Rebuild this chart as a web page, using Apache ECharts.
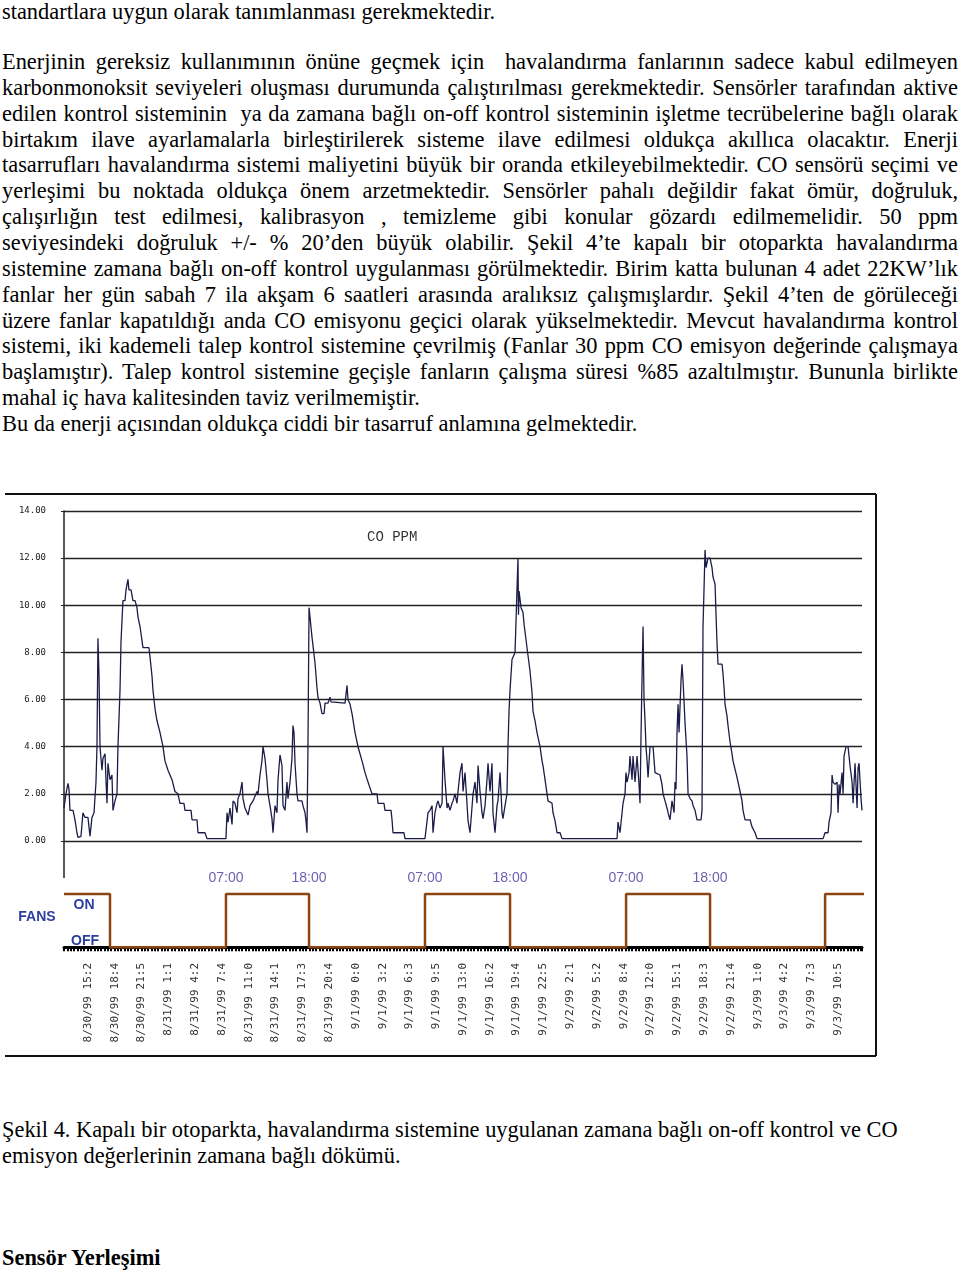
<!DOCTYPE html>
<html><head><meta charset="utf-8">
<script src="https://cdn.jsdelivr.net/npm/echarts@6/dist/echarts.min.js"></script>
<style>
html,body{margin:0;padding:0;background:#fff;width:960px;height:1273px;overflow:hidden;}
.txt{position:absolute;left:2px;width:956px;font-family:"Liberation Serif","Times New Roman",serif;font-size:22.4px;line-height:25.86px;color:#000;}
.j{text-align:justify;text-align-last:justify;}
#chart{position:absolute;left:0;top:480px;width:960px;height:600px;}
</style></head>
<body>
<div class="txt" style="top:-1px">standartlara uygun olarak tanımlanması gerekmektedir.</div>
<div class="txt" style="top:49px">
<div class="j">Enerjinin gereksiz kullanımının önüne geçmek için&nbsp; havalandırma fanlarının sadece kabul edilmeyen</div>
<div class="j">karbonmonoksit seviyeleri oluşması durumunda çalıştırılması gerekmektedir. Sensörler tarafından aktive</div>
<div class="j">edilen kontrol sisteminin&nbsp; ya da zamana bağlı on-off kontrol sisteminin işletme tecrübelerine bağlı olarak</div>
<div class="j">birtakım ilave ayarlamalarla birleştirilerek sisteme ilave edilmesi oldukça akıllıca olacaktır. Enerji</div>
<div class="j">tasarrufları havalandırma sistemi maliyetini büyük bir oranda etkileyebilmektedir. CO sensörü seçimi ve</div>
<div class="j">yerleşimi bu noktada oldukça önem arzetmektedir. Sensörler pahalı değildir fakat ömür, doğruluk,</div>
<div class="j">çalışırlığın test edilmesi, kalibrasyon , temizleme gibi konular gözardı edilmemelidir. 50 ppm</div>
<div class="j">seviyesindeki doğruluk +/- % 20’den büyük olabilir. Şekil 4’te kapalı bir otoparkta havalandırma</div>
<div class="j">sistemine zamana bağlı on-off kontrol uygulanması görülmektedir. Birim katta bulunan 4 adet 22KW’lık</div>
<div class="j">fanlar her gün sabah 7 ila akşam 6 saatleri arasında aralıksız çalışmışlardır. Şekil 4’ten de görüleceği</div>
<div class="j">üzere fanlar kapatıldığı anda CO emisyonu geçici olarak yükselmektedir. Mevcut havalandırma kontrol</div>
<div class="j">sistemi, iki kademeli talep kontrol sistemine çevrilmiş (Fanlar 30 ppm CO emisyon değerinde çalışmaya</div>
<div class="j">başlamıştır). Talep kontrol sistemine geçişle fanların çalışma süresi %85 azaltılmıştır. Bununla birlikte</div>
<div>mahal iç hava kalitesinden taviz verilmemiştir.</div>
<div>Bu da enerji açısından oldukça ciddi bir tasarruf anlamına gelmektedir.</div>
</div>
<div id="chart"></div>
<div class="txt" style="top:1117px">
<div>Şekil 4. Kapalı bir otoparkta, havalandırma sistemine uygulanan zamana bağlı on-off kontrol ve CO</div>
<div>emisyon değerlerinin zamana bağlı dökümü.</div>
</div>
<div class="txt" style="top:1245px;font-weight:bold">Sensör Yerleşimi</div>
<script>
// x values: hours since 8/30/99 00:00
const xStart = 12.49, xEnd = 109.80;
const yTicksMax = 14, yTickStep = 2;
// CO readings [hours, ppm]
const coReadings = [
[12.49,1.4],[12.73,2.0],[12.98,2.45],[13.10,2.2],[13.22,1.3],[13.59,1.3],[13.83,0.9],[14.07,0.35],[14.20,0.15],[14.56,0.2],[14.80,1.2],[15.05,1.0],[15.41,1.0],[15.66,0.2],[15.90,1.0],[16.15,1.2],[16.39,2.5],[16.51,4.0],[16.63,8.6],[16.76,7.0],[16.88,4.0],[17.12,3.0],[17.24,3.5],[17.49,3.7],[17.61,2.6],[17.73,1.6],[17.85,3.3],[18.10,2.6],[18.34,2.8],[18.46,1.3],[18.71,1.7],[18.95,2.0],[19.07,4.0],[19.32,6.4],[19.44,8.45],[19.68,10.2],[19.93,10.2],[20.05,10.65],[20.29,11.1],[20.41,10.65],[20.66,10.65],[20.90,10.2],[21.15,10.2],[21.39,9.9],[21.51,9.5],[21.76,9.1],[22.00,8.5],[22.12,8.2],[22.85,8.2],[22.98,7.8],[23.22,7.0],[23.34,6.4],[23.59,5.6],[23.83,5.1],[24.20,4.6],[24.56,4.0],[24.80,3.4],[25.17,3.0],[25.66,2.6],[26.02,2.1],[26.39,2.0],[26.63,1.6],[27.12,1.6],[27.24,1.3],[27.98,1.3],[28.10,0.9],[28.71,0.9],[28.83,0.35],[29.68,0.35],[29.93,0.1],[32.24,0.1],
[32.37,1.2],[32.49,0.8],[32.73,1.4],[32.98,0.7],[33.10,1.7],[33.34,1.6],[33.59,1.2],[33.71,1.8],[33.95,2.0],[34.20,2.5],[34.32,1.8],[34.56,1.4],[34.93,1.1],[35.17,1.5],[35.54,1.7],[35.78,1.7],[36.02,2.1],[36.15,2.0],[36.39,2.8],[36.63,3.4],[36.76,4.0],[37.00,3.5],[37.24,2.6],[37.37,2.0],[37.61,1.5],[37.85,0.95],[37.98,0.35],[38.22,1.5],[38.46,1.2],[38.59,2.6],[38.83,3.65],[39.07,3.2],[39.20,1.5],[39.44,1.3],[39.68,2.5],[39.80,1.8],[40.05,2.5],[40.29,3.5],[40.41,4.9],[40.54,4.6],[40.66,3.3],[40.90,2.0],[41.02,1.7],[41.51,1.7],[41.63,1.5],[41.88,1.2],[42.00,0.85],[42.12,0.35],[42.24,4.0],[42.37,9.9],[42.49,9.5],[42.73,8.65],[42.85,8.3],[43.10,7.55],[43.34,6.5],[43.46,6.1],[43.71,5.85],[43.95,5.4],[44.20,5.4],[44.32,5.85],[44.68,5.85],[44.93,6.1],[45.05,5.9],[45.29,5.85],[46.76,5.85],[47.00,6.6],[47.12,6.0],[47.37,5.8],[47.61,5.4],[47.98,4.6],[48.34,4.0],[48.83,3.4],[49.20,2.9],[49.56,2.5],[50.05,2.0],[50.66,2.0],[50.78,1.6],[51.51,1.6],[51.63,1.3],[52.37,1.3],[52.49,0.9],[52.61,0.35],[53.95,0.35],[54.07,0.1],[56.51,0.1],
[56.76,0.85],[56.88,1.2],[57.12,1.3],[57.37,1.5],[57.49,0.35],[57.73,1.2],[57.98,1.6],[58.10,1.7],[58.34,1.4],[58.59,1.6],[58.71,4.0],[58.95,2.6],[59.20,1.4],[59.32,1.6],[59.56,1.3],[59.80,1.6],[59.93,1.7],[60.17,2.0],[60.41,1.6],[60.54,2.1],[60.78,2.9],[61.02,3.3],[61.15,2.1],[61.39,2.9],[61.63,1.6],[61.76,0.85],[62.00,0.35],[62.24,0.35],[62.37,2.0],[62.61,2.5],[62.85,1.6],[62.98,3.2],[63.22,2.1],[63.46,1.2],[63.59,0.95],[63.83,1.5],[64.07,2.6],[64.20,3.3],[64.44,2.1],[64.68,3.3],[64.80,1.2],[65.05,0.35],[65.29,1.5],[65.41,1.7],[65.66,2.9],[65.90,1.2],[66.02,0.95],[66.27,1.5],[66.51,2.0],[66.63,4.0],[66.76,5.55],[66.88,6.4],[67.12,7.7],[67.49,8.0],[67.73,8.0],[67.85,12.0],[67.91,9.6],[67.98,10.6],[68.22,9.9],[68.46,9.7],[68.59,9.2],[68.95,8.2],[69.32,7.2],[69.56,6.3],[69.68,5.5],[69.93,5.1],[70.17,4.6],[70.41,4.6],[70.54,4.0],[70.78,3.4],[70.90,3.2],[71.15,2.6],[71.39,2.0],[71.51,1.7],[72.00,1.6],[72.12,1.2],[72.37,0.85],[72.61,0.35],[72.98,0.35],[73.22,0.1],[79.93,0.1],
[80.05,0.8],[80.29,0.35],[80.54,1.2],[80.66,1.6],[80.90,2.0],[81.02,2.9],[81.15,2.5],[81.39,2.9],[81.51,3.6],[81.76,2.6],[81.88,3.6],[82.12,2.5],[82.37,3.6],[82.61,2.4],[82.73,1.6],[82.85,4.4],[82.98,7.0],[83.10,9.1],[83.22,6.0],[83.34,5.1],[83.46,4.0],[83.59,3.4],[83.71,2.7],[83.95,4.0],[84.32,4.0],[84.56,2.9],[85.17,2.8],[85.41,2.4],[85.54,2.0],[85.78,1.7],[86.02,1.4],[86.15,1.2],[86.39,0.9],[86.63,1.7],[86.88,1.2],[87.00,2.5],[87.12,2.2],[87.24,4.6],[87.37,5.8],[87.49,4.6],[87.73,6.8],[87.85,7.5],[87.98,6.8],[88.22,5.0],[88.46,3.6],[88.59,2.0],[88.83,1.8],[89.07,1.7],[89.20,1.5],[89.44,1.3],[89.68,0.9],[90.17,0.9],[90.29,1.3],[90.41,9.0],[90.66,12.35],[90.78,11.6],[90.90,11.6],[91.02,12.0],[91.27,12.0],[91.51,11.6],[91.63,11.2],[91.88,10.9],[92.00,9.6],[92.12,8.4],[92.24,7.5],[92.73,7.5],[92.85,7.1],[92.98,6.5],[93.10,5.8],[93.34,5.3],[93.46,4.9],[93.71,4.2],[93.95,3.7],[94.07,3.4],[94.56,2.7],[94.93,2.1],[95.17,1.7],[95.29,1.3],[95.54,0.9],[96.15,0.9],[96.39,0.6],[96.76,0.35],[97.00,0.1],[105.05,0.1],
[105.29,0.35],[105.66,0.35],[105.78,0.8],[106.02,1.2],[106.15,2.8],[106.27,2.5],[106.51,2.4],[106.76,2.5],[106.88,1.2],[107.00,2.4],[107.12,2.0],[107.37,2.9],[107.49,2.0],[107.61,3.6],[107.85,4.0],[108.10,4.0],[108.22,3.6],[108.34,3.2],[108.59,2.5],[108.71,1.6],[108.95,3.3],[109.20,1.4],[109.32,3.1],[109.44,3.3],[109.68,1.8],[109.80,1.3]
];
// fan state (1 = ON, 0 = OFF) at switching hours
const fanHours = [12.49,18.10,32.24,42.37,56.51,66.88,81.03,91.27,105.30,110.54];
const fanState = [1,0,1,0,1,0,1,0,1,1];
// switching-time annotations
const switchHours = [32.24,42.37,56.51,66.88,81.03,91.27];
const switchText = ['07:00','18:00','07:00','18:00','07:00','18:00'];
// x tick labels
const tickHours = [15.42,18.68,21.95,25.22,28.48,31.75,35.02,38.28,41.55,44.82,48.08,51.35,54.62,57.88,61.15,64.42,67.68,70.95,74.22,77.48,80.75,84.02,87.28,90.55,93.82,97.08,100.35,103.62,106.88];
const tickLabels = ["8/30/99 15:2","8/30/99 18:4","8/30/99 21:5","8/31/99 1:1","8/31/99 4:2","8/31/99 7:4","8/31/99 11:0","8/31/99 14:1","8/31/99 17:3","8/31/99 20:4","9/1/99 0:0","9/1/99 3:2","9/1/99 6:3","9/1/99 9:5","9/1/99 13:0","9/1/99 16:2","9/1/99 19:4","9/1/99 22:5","9/2/99 2:1","9/2/99 5:2","9/2/99 8:4","9/2/99 12:0","9/2/99 15:1","9/2/99 18:3","9/2/99 21:4","9/3/99 1:0","9/3/99 4:2","9/3/99 7:3","9/3/99 10:5"];

const chart = echarts.init(document.getElementById('chart'));
const blue = '#2d3f9e';
chart.setOption({
  animation:false,
  title:{text:'CO PPM', left:362, top:45, textStyle:{fontFamily:'Liberation Mono', fontSize:14, fontWeight:'normal', color:'#333'}},
  grid:[{left:64, top:31, width:798, height:330},{left:64, top:414, width:798, height:64}],
  xAxis:[
    {gridIndex:0, type:'value', min:xStart, max:xEnd, show:false},
    {gridIndex:1, type:'value', min:xStart, max:xEnd, interval:0.41, position:'bottom',
     axisLine:{show:true, lineStyle:{color:'#000', width:3}},
     axisTick:{show:true, length:4, lineStyle:{color:'#000', width:2}},
     axisLabel:{show:true, customValues:tickHours, rotate:90, margin:5, fontFamily:'DejaVu Sans Mono', fontSize:11, color:'#333',
       formatter:function(v){ let k=0,b=1e9; tickHours.forEach((h,i)=>{const d=Math.abs(h-v); if(d<b){b=d;k=i;}}); return tickLabels[k]; }},
     splitLine:{show:false}}
  ],
  yAxis:[
    {gridIndex:0, type:'value', min:0, max:yTicksMax, interval:yTickStep,
     axisLine:{show:true, lineStyle:{color:'#222', width:1.5}},
     axisTick:{show:true, length:3, lineStyle:{color:'#222'}},
     axisLabel:{margin:18, fontFamily:'DejaVu Sans Mono', fontSize:9, color:'#222', formatter:v=>v.toFixed(2)},
     splitLine:{show:true, lineStyle:{color:'#222', width:1.3}}},
    {gridIndex:1, type:'value', min:-0.2, max:1, show:false}
  ],
  series:[
    {type:'line', xAxisIndex:0, yAxisIndex:0, data:coReadings, showSymbol:false, symbol:'none',
     lineStyle:{color:'#1c1c48', width:1.3}},
    {type:'line', xAxisIndex:1, yAxisIndex:1, step:'end', clip:false, showSymbol:false, symbol:'none',
     data:fanHours.map((h,i)=>[h,fanState[i]]), lineStyle:{color:'#8b4513', width:2.5}},
    {type:'scatter', xAxisIndex:1, yAxisIndex:1, symbolSize:1, itemStyle:{color:'rgba(0,0,0,0)'},
     data:switchHours.map(h=>[h,1]),
     label:{show:true, position:'top', distance:8, formatter:p=>switchText[p.dataIndex], color:'#46389c', fontFamily:'Liberation Sans', fontSize:14}}
  ],
  graphic:[
    {type:'line', shape:{x1:5,y1:14,x2:876,y2:14}, style:{stroke:'#111', lineWidth:2}},
    {type:'line', shape:{x1:876,y1:14,x2:876,y2:576}, style:{stroke:'#111', lineWidth:2}},
    {type:'line', shape:{x1:5,y1:576,x2:876,y2:576}, style:{stroke:'#111', lineWidth:2}},
    {type:'line', shape:{x1:64,y1:361,x2:64,y2:398}, style:{stroke:'#222', lineWidth:1.5}},
    {type:'text', x:37, y:437, style:{text:'FANS', fill:blue, font:'bold 14px "Liberation Sans"', textAlign:'center', textVerticalAlign:'middle'}},
    {type:'text', x:84, y:425, style:{text:'ON', fill:blue, font:'bold 14px "Liberation Sans"', textAlign:'center', textVerticalAlign:'middle'}},
    {type:'text', x:85, y:461, style:{text:'OFF', fill:blue, font:'bold 14px "Liberation Sans"', textAlign:'center', textVerticalAlign:'middle'}}
  ]
});
</script>
</body></html>
